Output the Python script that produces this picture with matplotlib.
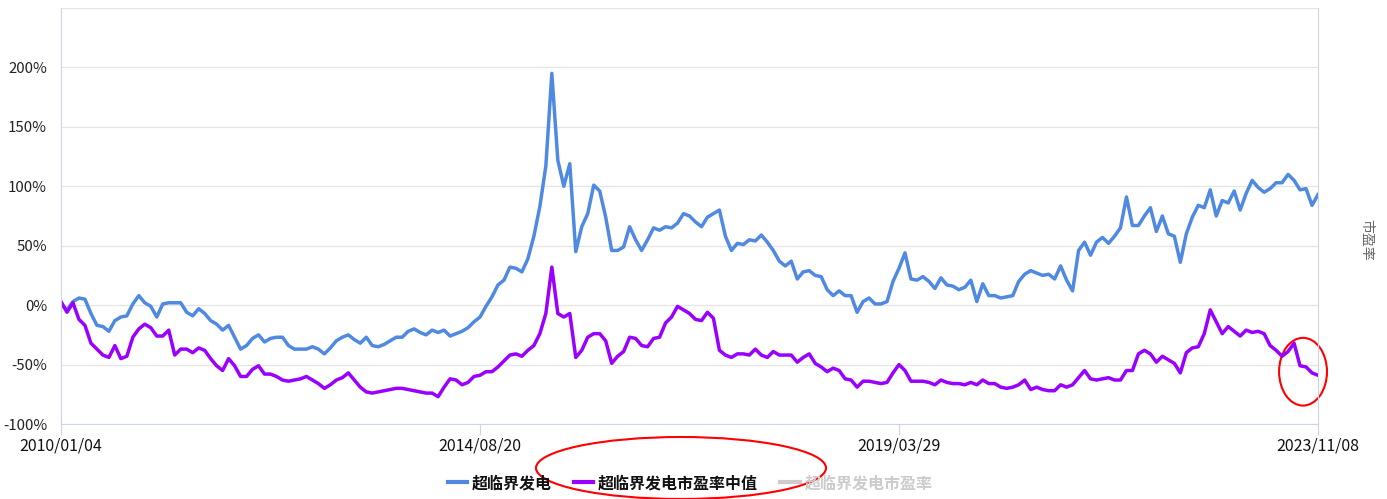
import numpy as np
import matplotlib
matplotlib.use('Agg')
import matplotlib.pyplot as plt
from matplotlib.patches import Ellipse
from matplotlib.lines import Line2D

plt.rcParams['font.family'] = ['Noto Sans CJK SC', 'DejaVu Sans']

# daily series sampled at even steps between first and last date (percent)
blue = [1, -4, 3, 6, 5, -7, -17, -18, -22, -13, -10, -9, 1, 8, 2, -1, -10, 1, 2, 2,
        2, -6, -9, -3, -7, -13, -16, -21, -17, -27, -37, -34, -28, -25, -31,
        -28, -27, -27, -34, -37, -37, -37, -35, -37, -41, -36, -30, -27, -25, -29,
        -32, -27, -34, -35, -33, -30, -27, -27, -22, -20, -23, -25, -21, -23, -21,
        -26, -24, -22, -19, -14,
        -10, -1, 7, 17, 21, 32, 31, 28, 39, 58, 83, 117, 195, 122, 100, 119, 45, 66,
        77, 101, 96, 74, 46, 46, 49, 66, 55, 46, 55, 65, 63, 66, 65, 69, 77,
        75, 70, 66, 74, 77, 80, 58, 46, 52, 51, 55, 54, 59, 53, 46, 37, 33, 37, 22,
        28, 29, 25, 24, 13, 8, 12, 8, 8, -6, 3, 6, 1, 1, 3, 20,
        31, 44, 22, 21, 24, 20, 14, 23, 17, 16, 13, 15, 21, 3, 18, 8, 8, 6, 7, 8,
        20, 26, 29, 27, 25, 26, 22, 33, 21, 12, 46, 53, 42, 53, 57,
        52, 58, 65, 91, 67, 67, 75, 82, 62, 75, 60, 58, 36, 60, 74, 84, 82, 97, 75,
        88, 86, 96, 80, 94, 105, 99, 95, 98, 103, 103, 110, 105, 97, 98, 84, 93]

purple = [3, -6, 2, -12, -17, -32, -37, -42, -44, -34, -45, -43, -27, -20, -16, -19,
          -26, -26, -21, -42, -37, -37, -40, -36, -38, -45, -51, -55, -45, -51, -60,
          -60, -54, -51, -58,
          -58, -60, -63, -64, -63, -62, -60, -63, -66, -70, -67, -63, -61, -57, -63,
          -69, -73, -74, -73, -72, -71, -70, -70, -71, -72, -73, -74, -74, -77, -69,
          -62, -63, -67, -65, -60,
          -59, -56, -56, -52, -47, -42, -41, -43, -38, -34, -24, -7, 32, -7, -10, -7,
          -44, -38, -27, -24, -24, -30, -49, -43, -39, -27, -28, -34, -35, -28, -27,
          -15, -10, -1, -4,
          -7, -12, -13, -6, -11, -38, -42, -44, -41, -41, -42, -37, -42, -44, -39,
          -42, -42, -42, -48, -44, -41, -49, -52, -56, -53, -55, -62, -63, -69, -64,
          -64, -65, -66, -65, -57,
          -50, -55, -64, -64, -64, -65, -67, -63, -65, -66, -66, -67, -65, -67, -63,
          -66, -66, -69, -70, -69, -67, -63, -71, -69, -71, -72, -72, -67, -69, -67,
          -61, -55, -62, -63, -62,
          -61, -63, -63, -55, -55, -41, -38, -41, -48, -43, -46, -49, -57, -40, -36,
          -35, -24, -4, -14, -24, -18, -22, -26, -21, -23, -22, -24, -34, -38, -43,
          -39, -32, -51, -52, -57, -59]

date_labels = ['2010/01/04', '2014/08/20', '2019/03/29', '2023/11/08']
names = ['超临界发电', '超临界发电市盈率中值', '超临界发电市盈率']
colors = ['#5089e2', '#9900ff', '#cccccc']

n = len(blue)
x = np.arange(n)

fig = plt.figure(figsize=(13.87, 4.99), dpi=100)
ax = fig.add_axes([61/1387, 1-424/499, (1318-61)/1387, (424-8)/499])

ax.plot(x, blue, color=colors[0], lw=2.5, solid_joinstyle='round')
ax.plot(x, purple, color=colors[1], lw=2.5, solid_joinstyle='round')

ax.set_xlim(0, n-1)
ax.set_ylim(-100, 250)
yt = np.arange(-100, 251, 50)
ax.set_yticks(yt)
ax.set_yticklabels(['%d%%' % v if v < 250 else '' for v in yt])
ax.grid(axis='y', color='#e6e6e6', lw=1)
ax.set_axisbelow(True)

xt = np.linspace(0, n-1, len(date_labels))
ax.set_xticks(xt)
ax.set_xticklabels(date_labels)

for s in ['left', 'right', 'bottom']:
    ax.spines[s].set_color('#ccd6eb')
ax.spines['top'].set_visible(False)
ax.tick_params(axis='y', length=0, pad=10, labelsize=10.8, labelcolor='#222222')
ax.tick_params(axis='x', length=8, color='#ccd6eb', pad=2, labelsize=11.5,
               labelcolor='#111111')

fig.text(1366/1387, 1-240/499, '市盈率', rotation=270, ha='center', va='center',
         fontsize=10, color='#666666')

handles = [Line2D([], [], color=c, lw=3) for c in colors]
leg = fig.legend(handles, names, loc='center', bbox_to_anchor=(690/1387, 1-483/499),
                 ncol=3, frameon=False, handlelength=1.2, handletextpad=0.3,
                 columnspacing=1.4, prop={'size': 11.5, 'weight': 'bold'})
for t, c in zip(leg.get_texts(), ['#111111', '#111111', '#cccccc']):
    t.set_color(c)

# red annotation rings
ax.add_patch(Ellipse((n-1-2.5, -56), 8, 57, fill=False, ec='red', lw=1.5,
                     clip_on=False))
fig.patches.append(Ellipse((681/1387, 1-468/499), 290/1387, 62/499, fill=False,
                           ec='red', lw=1.5, transform=fig.transFigure))

fig.savefig('out.png', dpi=100)
